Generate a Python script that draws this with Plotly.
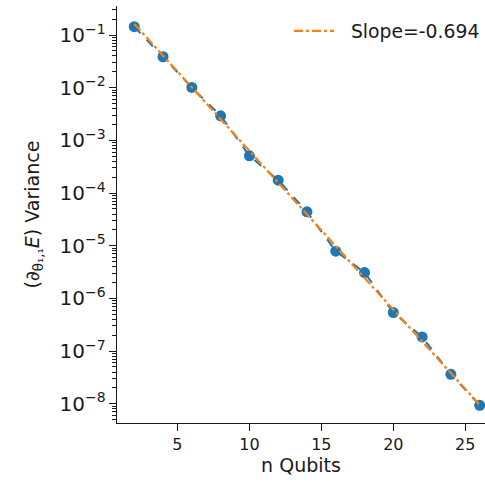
import numpy as np
import plotly.graph_objects as go

n_qubits = [2, 4, 6, 8, 10, 12, 14, 16, 18, 20, 22, 24, 26]
variance = [0.144, 0.0387, 0.0101, 0.00293, 5.1e-4, 1.76e-4, 4.4e-5,
            7.9e-6, 3.1e-6, 5.4e-7, 1.86e-7, 3.63e-8, 9.35e-9]
slope = -0.694
slope_label = "Slope=-0.694"
x_ticks = [5, 10, 15, 20, 25]

n_arr = np.array(n_qubits, dtype=float)
ln_v = np.log(np.array(variance))
intercept = ln_v.mean() - slope * n_arr.mean()
fit = np.exp(intercept + slope * n_arr)

blue = "#1f77b4"
orange = "#ff7f0e"
txt = "#1a1a1a"
fs = 16
fs_leg = 18.8

fig = go.Figure()
fig.add_trace(go.Scatter(x=n_qubits, y=variance, mode="markers", cliponaxis=False,
                         marker=dict(color=blue, size=11), showlegend=False))
fig.add_trace(go.Scatter(x=n_qubits, y=variance, mode="lines",
                         line=dict(color=blue, width=2, dash="dash"), showlegend=False))
fig.add_trace(go.Scatter(x=n_qubits, y=fit, mode="lines", name="\u00a0\u00a0" + slope_label,
                         line=dict(color=orange, width=2.2, dash="dashdot")))

font = dict(family="DejaVu Sans", size=fs, color=txt)
fig.update_layout(
    width=485, height=484,
    margin=dict(l=117, r=0, t=6, b=61, autoexpand=False),
    paper_bgcolor="white", plot_bgcolor="white",
    font=font,
    legend=dict(x=1.0, y=0.985, xanchor="right", yanchor="top", itemwidth=40,
                bgcolor="rgba(0,0,0,0)", font=dict(family="DejaVu Sans", size=fs_leg, color=txt)),
    xaxis=dict(range=[0.8, 26.37], tickvals=x_ticks, showgrid=False, zeroline=False,
               automargin=False,
               showline=True, linecolor=txt, linewidth=1.3,
               ticks="outside", ticklen=7, tickwidth=1.3, tickcolor=txt,
               title=dict(text="n Qubits", standoff=5)),
    yaxis=dict(type="log", range=[-8.365, -0.449], dtick=1, exponentformat="power",
               automargin=False,
               showgrid=False, zeroline=False, showline=True, linecolor=txt,
               linewidth=1.3, ticks="outside", ticklen=7, tickwidth=1.3, tickcolor=txt,
               minor=dict(ticks="outside", ticklen=4, tickwidth=1, tickcolor=txt,
                          dtick="D1", showgrid=False),
               title=dict(text="(∂<sub>θ₁,₁</sub><i>E</i>) Variance", standoff=14)),
)
fig.write_html("out.html", config={"displayModeBar": False},
               post_script="document.body.style.margin='0px';document.body.style.overflow='hidden';")
